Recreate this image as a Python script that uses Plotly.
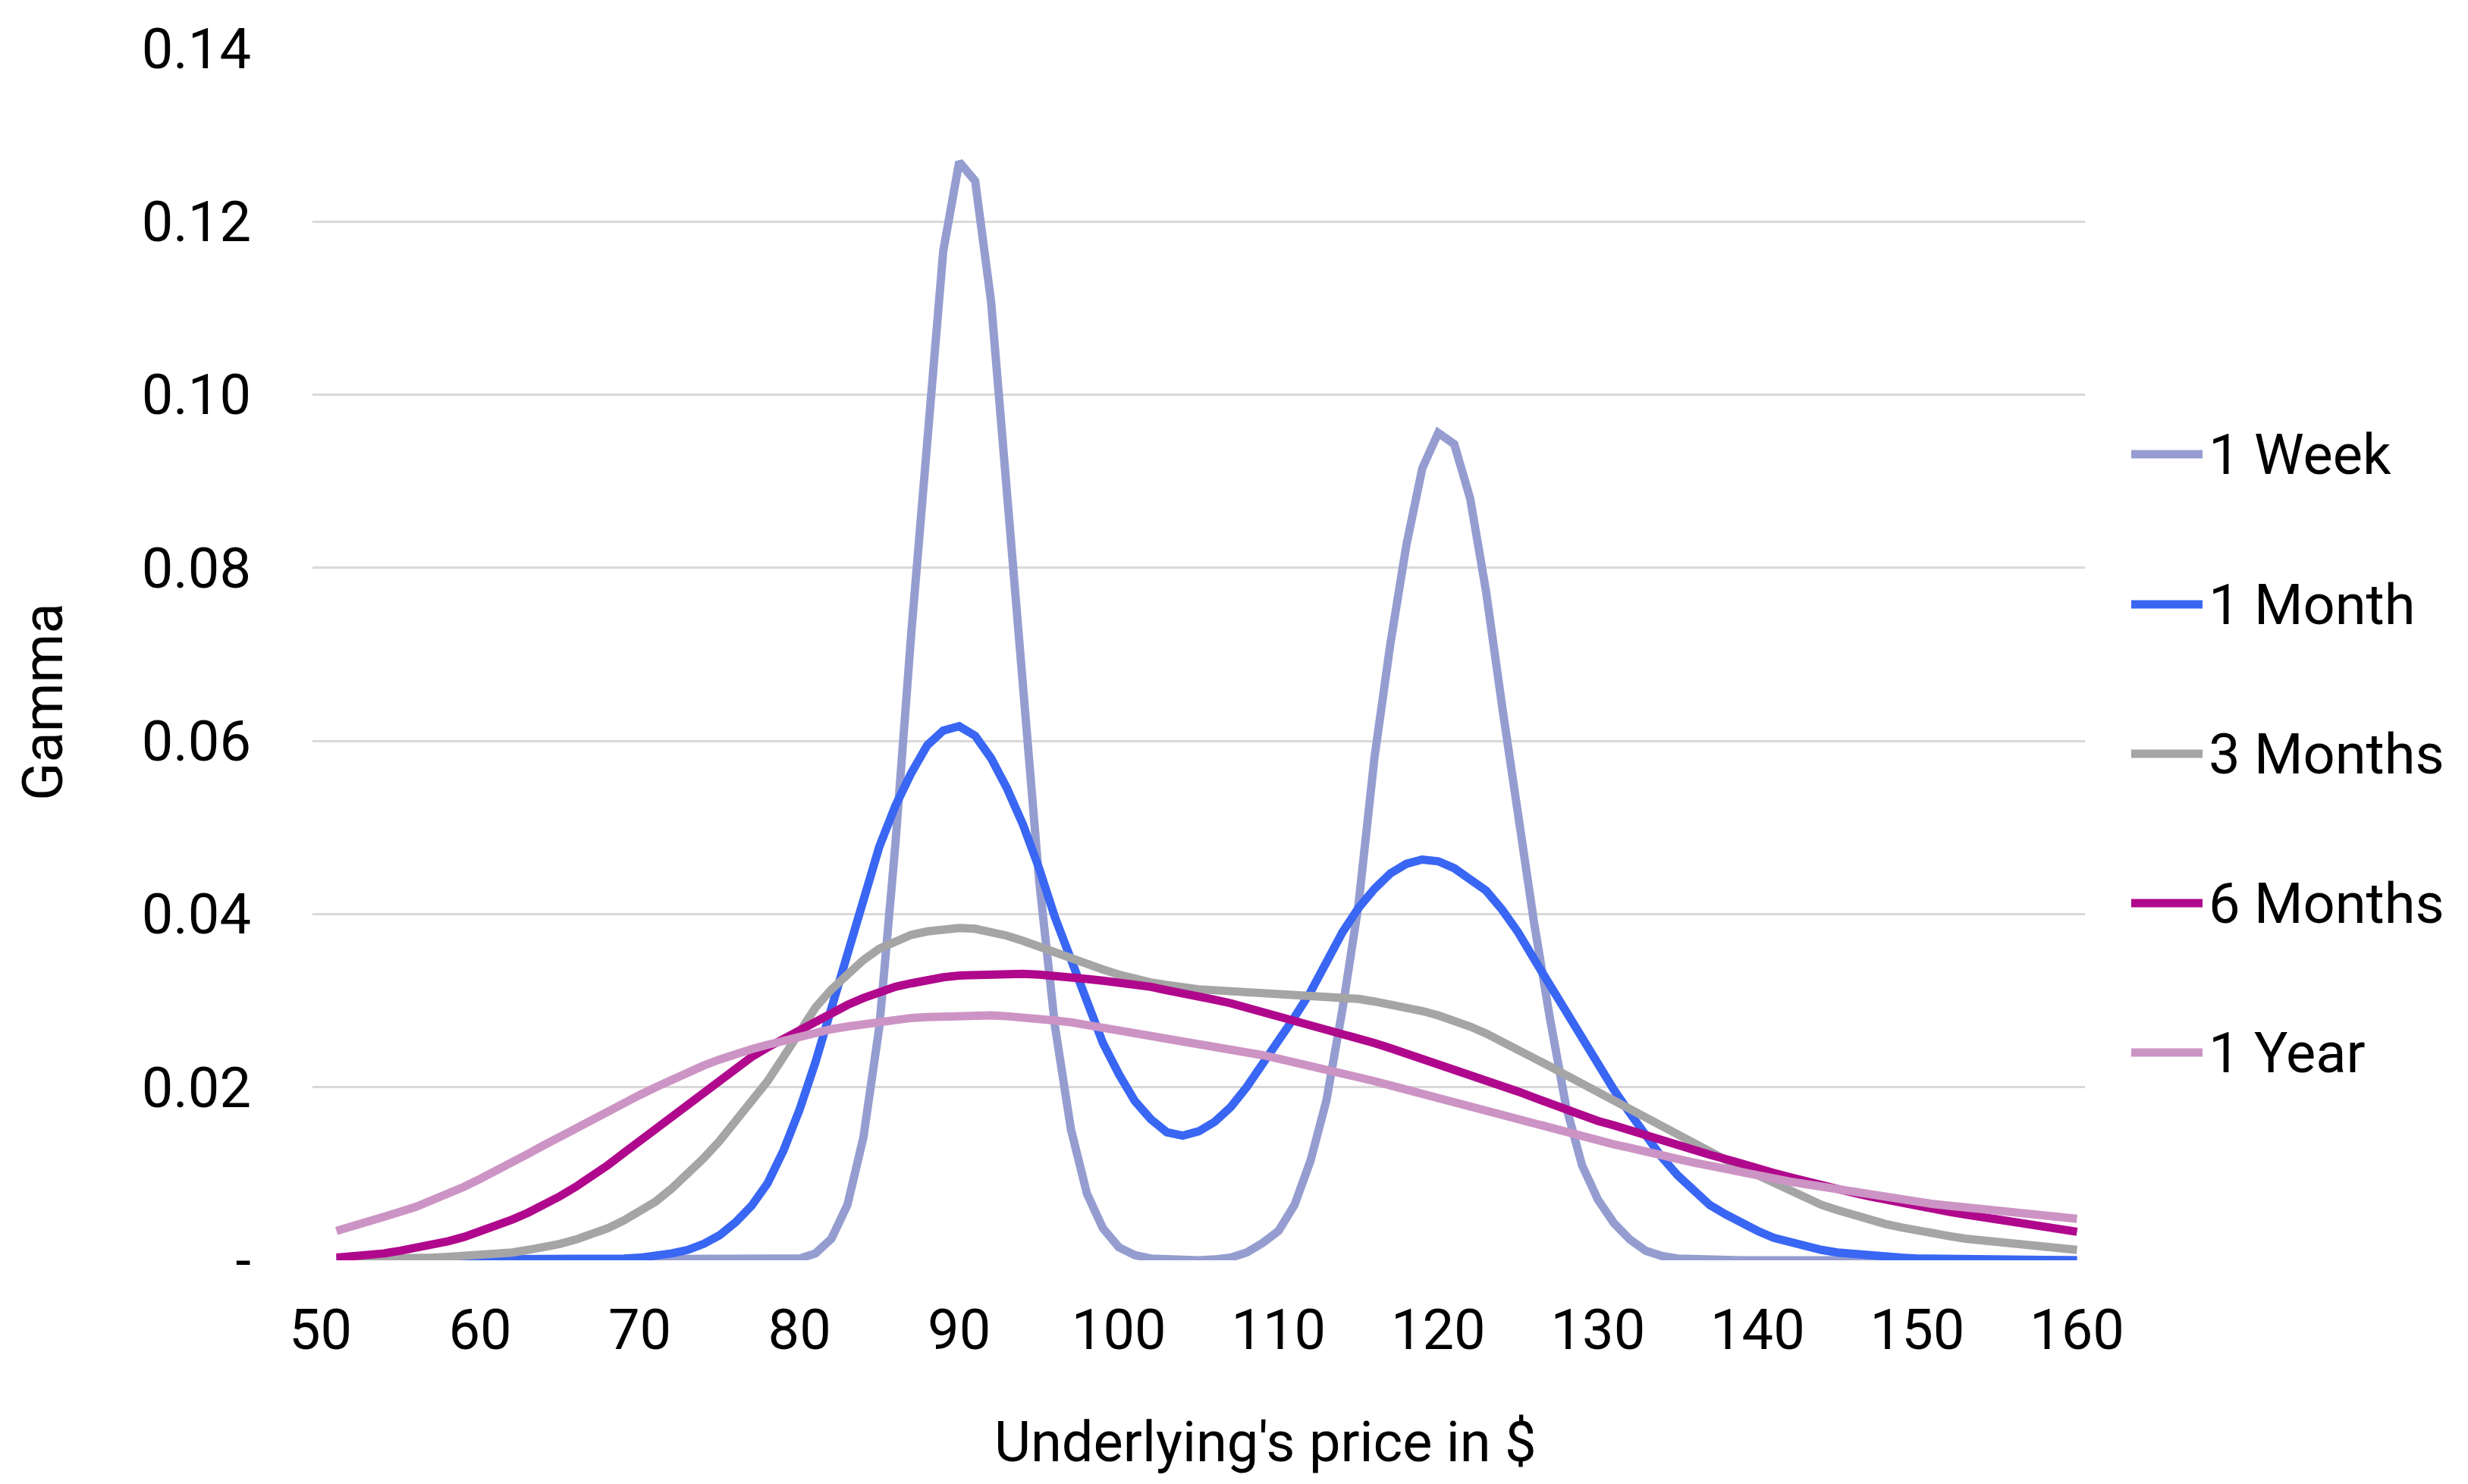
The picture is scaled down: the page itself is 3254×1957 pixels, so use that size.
import plotly.graph_objects as go

# Underlying price (x) samples
price = list(range(51, 161))

week_1 = [
    0.0000, 0.0000, 0.0000, 0.0000, 0.0000, 0.0000, 0.0000, 0.0000, 0.0000, 0.0000,  # 51-60
    0.0000, 0.0000, 0.0000, 0.0000, 0.0000, 0.0000, 0.0000, 0.0000, 0.0000, 0.0000,  # 61-70
    0.0000, 0.0000, 0.0000, 0.0000, 0.0000, 0.0000, 0.0000, 0.0000, 0.0001, 0.0002,  # 71-80
    0.0008, 0.0025, 0.0064, 0.0142, 0.0270, 0.0480, 0.0725, 0.0960, 0.1166, 0.1269,  # 81-90
    0.1247, 0.1107, 0.0889, 0.0660, 0.0440, 0.0270, 0.0151, 0.0077, 0.0037, 0.0015,  # 91-100
    0.0006, 0.0002, 0.0001, 0.0000, 0.0000, 0.0001, 0.0003, 0.0009, 0.0020, 0.0034,  # 101-110
    0.0064, 0.0115, 0.0185, 0.0290, 0.0410, 0.0580, 0.0712, 0.0826, 0.0915, 0.0956,  # 111-120
    0.0943, 0.0880, 0.0772, 0.0640, 0.0510, 0.0390, 0.0279, 0.0178, 0.0110, 0.0070,  # 121-130
    0.0043, 0.0024, 0.0011, 0.0005, 0.0002, 0.0001, 0.0000, 0.0000, 0.0000, 0.0000,  # 131-140
    0.0000, 0.0000, 0.0000, 0.0000, 0.0000, 0.0000, 0.0000, 0.0000, 0.0000, 0.0000,  # 141-150
    0.0000, 0.0000, 0.0000, 0.0000, 0.0000, 0.0000, 0.0000, 0.0000, 0.0000, 0.0000,  # 151-160
]

month_1 = [
    0.0000, 0.0000, 0.0000, 0.0000, 0.0000, 0.0000, 0.0000, 0.0000, 0.0000, 0.0000,  # 51-60
    0.0000, 0.0000, 0.0000, 0.0000, 0.0000, 0.0001, 0.0001, 0.0001, 0.0002, 0.0003,  # 61-70
    0.0005, 0.0008, 0.0012, 0.0019, 0.0029, 0.0044, 0.0063, 0.0089, 0.0127, 0.0174,  # 71-80
    0.0229, 0.0292, 0.0357, 0.0420, 0.0478, 0.0525, 0.0563, 0.0595, 0.0612, 0.0617,  # 81-90
    0.0606, 0.0580, 0.0545, 0.0503, 0.0453, 0.0396, 0.0346, 0.0298, 0.0251, 0.0215,  # 91-100
    0.0184, 0.0163, 0.0148, 0.0144, 0.0149, 0.0160, 0.0177, 0.0200, 0.0226, 0.0255,  # 101-110
    0.0281, 0.0310, 0.0344, 0.0379, 0.0407, 0.0429, 0.0447, 0.0458, 0.0463, 0.0461,  # 111-120
    0.0453, 0.0441, 0.0427, 0.0405, 0.0379, 0.0348, 0.0318, 0.0288, 0.0256, 0.0225,  # 121-130
    0.0197, 0.0170, 0.0143, 0.0119, 0.0098, 0.0080, 0.0064, 0.0053, 0.0043, 0.0034,  # 131-140
    0.0026, 0.0021, 0.0016, 0.0012, 0.0009, 0.0007, 0.0005, 0.0004, 0.0003, 0.0002,  # 141-150
    0.0002, 0.0001, 0.0001, 0.0001, 0.0001, 0.0001, 0.0000, 0.0000, 0.0000, 0.0000,  # 151-160
]

months_3 = [
    0.0001, 0.0001, 0.0001, 0.0002, 0.0002, 0.0003, 0.0003, 0.0004, 0.0005, 0.0006,  # 51-60
    0.0007, 0.0009, 0.0012, 0.0015, 0.0019, 0.0024, 0.0030, 0.0037, 0.0046, 0.0056,  # 61-70
    0.0068, 0.0083, 0.0100, 0.0118, 0.0138, 0.0160, 0.0183, 0.0207, 0.0235, 0.0265,  # 71-80
    0.0292, 0.0313, 0.0331, 0.0347, 0.0360, 0.0369, 0.0376, 0.0380, 0.0383, 0.0384,  # 81-90
    0.0383, 0.0380, 0.0375, 0.0369, 0.0362, 0.0355, 0.0348, 0.0342, 0.0336, 0.0330,  # 91-100
    0.0325, 0.0321, 0.0318, 0.0315, 0.0313, 0.0312, 0.0311, 0.0310, 0.0310, 0.0309,  # 101-110
    0.0308, 0.0307, 0.0306, 0.0304, 0.0302, 0.0299, 0.0296, 0.0292, 0.0288, 0.0283,  # 111-120
    0.0277, 0.0270, 0.0262, 0.0253, 0.0244, 0.0234, 0.0224, 0.0214, 0.0204, 0.0194,  # 121-130
    0.0184, 0.0174, 0.0164, 0.0154, 0.0144, 0.0134, 0.0125, 0.0116, 0.0107, 0.0098,  # 131-140
    0.0089, 0.0080, 0.0071, 0.0064, 0.0058, 0.0052, 0.0047, 0.0042, 0.0038, 0.0034,  # 141-150
    0.0031, 0.0028, 0.0025, 0.0023, 0.0021, 0.0019, 0.0017, 0.0015, 0.0013, 0.0012,  # 151-160
]

months_6 = [
    0.0003, 0.0004, 0.0006, 0.0008, 0.0011, 0.0014, 0.0018, 0.0022, 0.0027, 0.0033,  # 51-60
    0.0040, 0.0047, 0.0055, 0.0064, 0.0074, 0.0085, 0.0097, 0.0110, 0.0124, 0.0138,  # 61-70
    0.0152, 0.0167, 0.0181, 0.0196, 0.0210, 0.0223, 0.0235, 0.0246, 0.0256, 0.0265,  # 71-80
    0.0275, 0.0286, 0.0295, 0.0303, 0.0310, 0.0316, 0.0320, 0.0324, 0.0327, 0.0329,  # 81-90
    0.0330, 0.0331, 0.0331, 0.0331, 0.0330, 0.0329, 0.0327, 0.0325, 0.0323, 0.0321,  # 91-100
    0.0319, 0.0316, 0.0312, 0.0309, 0.0305, 0.0301, 0.0297, 0.0292, 0.0287, 0.0283,  # 101-110
    0.0278, 0.0273, 0.0268, 0.0262, 0.0256, 0.0251, 0.0245, 0.0239, 0.0233, 0.0227,  # 111-120
    0.0221, 0.0215, 0.0209, 0.0202, 0.0195, 0.0188, 0.0181, 0.0175, 0.0168, 0.0161,  # 121-130
    0.0156, 0.0150, 0.0145, 0.0139, 0.0134, 0.0128, 0.0122, 0.0117, 0.0111, 0.0106,  # 131-140
    0.0101, 0.0096, 0.0091, 0.0086, 0.0082, 0.0078, 0.0074, 0.0070, 0.0066, 0.0063,  # 141-150
    0.0059, 0.0056, 0.0053, 0.0050, 0.0047, 0.0044, 0.0041, 0.0039, 0.0036, 0.0033,  # 151-160
]

year_1 = [
    0.0034, 0.0039, 0.0044, 0.0050, 0.0056, 0.0062, 0.0069, 0.0077, 0.0085, 0.0094,  # 51-60
    0.0103, 0.0113, 0.0123, 0.0133, 0.0143, 0.0153, 0.0163, 0.0172, 0.0182, 0.0191,  # 61-70
    0.0200, 0.0209, 0.0217, 0.0225, 0.0232, 0.0239, 0.0244, 0.0249, 0.0254, 0.0259,  # 71-80
    0.0263, 0.0267, 0.0270, 0.0273, 0.0276, 0.0278, 0.0280, 0.0281, 0.0282, 0.0283,  # 81-90
    0.0283, 0.0283, 0.0282, 0.0281, 0.0279, 0.0277, 0.0275, 0.0272, 0.0269, 0.0266,  # 91-100
    0.0263, 0.0260, 0.0257, 0.0254, 0.0251, 0.0248, 0.0244, 0.0240, 0.0237, 0.0233,  # 101-110
    0.0229, 0.0225, 0.0221, 0.0216, 0.0211, 0.0207, 0.0202, 0.0197, 0.0193, 0.0188,  # 111-120
    0.0182, 0.0177, 0.0172, 0.0167, 0.0162, 0.0157, 0.0152, 0.0147, 0.0143, 0.0139,  # 121-130
    0.0134, 0.0130, 0.0125, 0.0121, 0.0117, 0.0113, 0.0109, 0.0105, 0.0101, 0.0097,  # 131-140
    0.0094, 0.0091, 0.0088, 0.0085, 0.0081, 0.0078, 0.0075, 0.0072, 0.0070, 0.0067,  # 141-150
    0.0065, 0.0063, 0.0061, 0.0059, 0.0057, 0.0055, 0.0053, 0.0051, 0.0050, 0.0048,  # 151-160
]

series_names = ["1 Week", "1 Month", "3 Months", "6 Months", "1 Year"]
series_values = [week_1, month_1, months_3, months_6, year_1]
series_colors = ["#959dd0", "#3966f3", "#a5a5a5", "#b0088c", "#cc94c4"]

x_tick_vals = list(range(50, 161, 10))
y_tick_vals = [0, 0.02, 0.04, 0.06, 0.08, 0.10, 0.12, 0.14]
y_tick_text = ["-", "0.02", "0.04", "0.06", "0.08", "0.10", "0.12", "0.14"]

W, H = 3254, 1957
L, R, T, B = 412, 2749, 64, 1662  # plot area in pixels
FONT = "Roboto"
FS = 74
LW = 11


def px_x(p):
    return (p - L) / (R - L)


def px_y(p):
    return (B - p) / (B - T)


fig = go.Figure()
for name, vals, col in zip(series_names, series_values, series_colors):
    fig.add_trace(go.Scatter(x=price, y=vals, mode="lines", name=name,
                             line=dict(color=col, width=LW), showlegend=False))

fig.update_layout(
    width=W, height=H,
    margin=dict(l=L, r=W - R, t=T, b=H - B),
    paper_bgcolor="white", plot_bgcolor="white",
    font=dict(family=FONT, size=FS, color="#000000"),
    xaxis=dict(range=[49.5, 160.5], tickvals=x_tick_vals, showgrid=False,
               zeroline=False, showline=False, ticks="",
               tickfont=dict(family=FONT, size=FS, color="#000000"),
               ticklabelstandoff=42),
    yaxis=dict(range=[0, 0.14], tickvals=y_tick_vals, ticktext=y_tick_text,
               showgrid=True, gridcolor="#d9d9d9", gridwidth=3,
               zeroline=False, showline=False, ticks="",
               tickfont=dict(family=FONT, size=FS, color="#000000"),
               ticklabelstandoff=80),
)

annotations = [
    dict(text="Underlying's price in $", x=px_x(1668), y=px_y(1901), xref="paper", yref="paper",
         xanchor="center", yanchor="middle", showarrow=False,
         font=dict(family=FONT, size=FS, color="#000000")),
    dict(text="Gamma", x=px_x(56), y=px_y(926), xref="paper", yref="paper",
         xanchor="center", yanchor="middle", showarrow=False, textangle=-90,
         font=dict(family=FONT, size=FS, color="#000000")),
]
shapes = []
legend_y = [599, 797, 994, 1191, 1388]
for name, col, ly in zip(series_names, series_colors, legend_y):
    shapes.append(dict(type="line", xref="paper", yref="paper",
                       x0=px_x(2810), x1=px_x(2904), y0=px_y(ly), y1=px_y(ly),
                       line=dict(color=col, width=LW)))
    annotations.append(dict(text=name, x=px_x(2910), y=px_y(ly), xref="paper", yref="paper",
                            xanchor="left", yanchor="middle", showarrow=False,
                            font=dict(family=FONT, size=FS, color="#000000")))
fig.update_layout(annotations=annotations, shapes=shapes)

fig.write_html("out.html")
